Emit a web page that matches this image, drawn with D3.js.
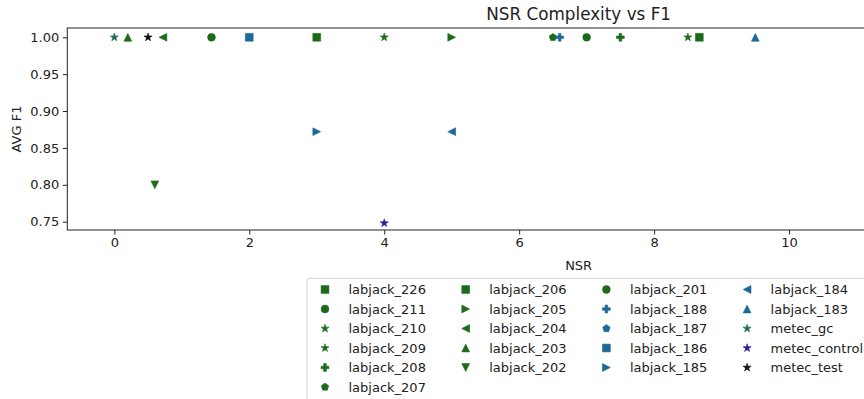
<!DOCTYPE html>
<html>
<head>
<meta charset="utf-8">
<script src="https://cdn.jsdelivr.net/npm/d3@7"></script>
<style>
  html, body { margin: 0; padding: 0; background: #fff; overflow: hidden; }
  svg { display: block; font-family: "DejaVu Sans", sans-serif; }
</style>
</head>
<body>
<svg id="chart" width="864" height="399"></svg>
<script>
// Series names, in legend order
const seriesNames = [
  "labjack_226", "labjack_211", "labjack_210", "labjack_209", "labjack_208", "labjack_207",
  "labjack_206", "labjack_205", "labjack_204", "labjack_203", "labjack_202",
  "labjack_201", "labjack_188", "labjack_187", "labjack_186", "labjack_185",
  "labjack_184", "labjack_183", "metec_gc", "metec_control", "metec_test"
];
const seriesShapes = [
  "square", "circle", "star", "star", "plus", "pentagon",
  "square", "right", "left", "up", "down",
  "circle", "plus", "pentagon", "square", "right",
  "left", "up", "star", "star", "star"
];
const seriesColors = [
  "#1b6b1b", "#1b6b1b", "#1b6b1b", "#1b6b1b", "#1b6b1b", "#1b6b1b",
  "#1b6b1b", "#1b6b1b", "#1b6b1b", "#1b6b1b", "#1b6b1b",
  "#1b6b1b", "#1d6a96", "#1d6a96", "#1d6a96", "#1d6a96",
  "#1d6a96", "#1d6a96", "#1f6b5b", "#2b1b9a", "#111111"
];
// NSR value of each series
const seriesNSR = [
  3.0, 1.44, 4.0, 8.5, 7.5, 6.5,
  8.67, 5.0, 0.72, 0.2, 0.6,
  7.0, 6.6, null, 2.0, 3.0,
  5.0, 9.5, 0.0, 4.0, 0.5
];
// Average F1 of each series
const seriesF1 = [
  1.0, 1.0, 1.0, 1.0, 1.0, 1.0,
  1.0, 1.0, 1.0, 1.0, 0.8,
  1.0, 1.0, null, 1.0, 0.872,
  0.872, 1.0, 1.0, 0.748, 1.0
];
const xTicks = [0, 2, 4, 6, 8, 10];
const yTicks = [0.75, 0.80, 0.85, 0.90, 0.95, 1.00];

const svg = d3.select("#chart");
const plot = { left: 67.3, right: 1090, top: 28, bottom: 230 };

const x = d3.scaleLinear().domain([-0.697, 14.46]).range([plot.left, plot.right]);
const y = d3.scaleLinear().domain([0.7387, 1.0126]).range([plot.bottom, plot.top]);

// Marker path builders, centred on the origin, s = marker size in px
function polygon(pts) { return "M" + pts.map(p => p[0].toFixed(2) + "," + p[1].toFixed(2)).join("L") + "Z"; }
function markerPath(shape, s) {
  const h = s / 2;
  switch (shape) {
    case "circle":
      return `M${h},0A${h},${h},0,1,1,${-h},0A${h},${h},0,1,1,${h},0Z`;
    case "square":
      return polygon([[-h, -h], [h, -h], [h, h], [-h, h]]);
    case "up":
      return polygon([[0, -h], [-h, h], [h, h]]);
    case "down":
      return polygon([[0, h], [-h, -h], [h, -h]]);
    case "left":
      return polygon([[-h, 0], [h, -h], [h, h]]);
    case "right":
      return polygon([[h, 0], [-h, -h], [-h, h]]);
    case "star": {
      const pts = [];
      const R = h * 1.1;
      for (let i = 0; i < 10; i++) {
        const r = i % 2 === 0 ? R : R * 0.381966;
        const a = -Math.PI / 2 + i * Math.PI / 5;
        pts.push([r * Math.cos(a), r * Math.sin(a)]);
      }
      return polygon(pts);
    }
    case "pentagon": {
      const pts = [];
      for (let i = 0; i < 5; i++) {
        const a = -Math.PI / 2 + i * 2 * Math.PI / 5;
        pts.push([h * Math.cos(a), h * Math.sin(a)]);
      }
      return polygon(pts);
    }
    case "plus": {
      const u = s / 6;
      return polygon([[-u, -3*u], [u, -3*u], [u, -u], [3*u, -u], [3*u, u], [u, u],
                      [u, 3*u], [-u, 3*u], [-u, u], [-3*u, u], [-3*u, -u], [-u, -u]]);
    }
  }
}

const MS = 7.8;

// Title and axis labels
svg.append("text").attr("x", (plot.left + plot.right) / 2).attr("y", 20)
  .attr("text-anchor", "middle").attr("font-size", 16.8).attr("fill", "#222")
  .text("NSR Complexity vs F1");
svg.append("text").attr("x", (plot.left + plot.right) / 2).attr("y", 270)
  .attr("text-anchor", "middle").attr("font-size", 13).attr("fill", "#222").text("NSR");
svg.append("text").attr("transform", `translate(21,${(plot.top + plot.bottom) / 2}) rotate(-90)`)
  .attr("text-anchor", "middle").attr("font-size", 13).attr("fill", "#222").text("AVG F1");

// Axes
const xAxis = d3.axisBottom(x).tickValues(xTicks).tickFormat(d3.format("d")).tickSizeOuter(0).tickSize(4.5).tickPadding(3.5);
const yAxis = d3.axisLeft(y).tickValues(yTicks).tickFormat(d3.format(".2f")).tickSizeOuter(0).tickSize(4.5).tickPadding(3.5);

const gx = svg.append("g").attr("transform", `translate(0,${plot.bottom})`).call(xAxis);
const gy = svg.append("g").attr("transform", `translate(${plot.left},0)`).call(yAxis);
[gx, gy].forEach(g => {
  g.select(".domain").remove();
  g.selectAll("line").attr("stroke", "#222").attr("stroke-width", 1);
  g.selectAll("text").attr("font-size", 13).attr("fill", "#222").attr("font-family", "DejaVu Sans, sans-serif");
});

// Frame
svg.append("rect").attr("x", plot.left).attr("y", plot.top)
  .attr("width", plot.right - plot.left).attr("height", plot.bottom - plot.top)
  .attr("fill", "none").attr("stroke", "#222").attr("stroke-width", 1);

// Points
const points = seriesNames.map((n, i) => ({ name: n, shape: seriesShapes[i], color: seriesColors[i], nsr: seriesNSR[i], f1: seriesF1[i] }))
  .filter(d => d.nsr !== null);
svg.append("g").selectAll("path").data(points).join("path")
  .attr("transform", d => `translate(${x(d.nsr)},${y(d.f1)})`)
  .attr("d", d => markerPath(d.shape, MS))
  .attr("fill", d => d.color)
  .attr("stroke", d => d.color).attr("stroke-width", 0.6);

// Legend (4 columns, column-major)
const leg = { left: 307, top: 278.3, colW: 140.7, rowH: 19.5, firstRow: 289.5 };
svg.append("rect").attr("x", leg.left).attr("y", leg.top).attr("rx", 3)
  .attr("width", 600).attr("height", 160)
  .attr("fill", "#fff").attr("fill-opacity", 0.8)
  .attr("stroke", "#d3d3d3").attr("stroke-width", 1);

const colSizes = [6, 5, 5, 5];
let idx = 0;
colSizes.forEach((cnt, c) => {
  for (let r = 0; r < cnt; r++, idx++) {
    const cy = leg.firstRow + r * leg.rowH;
    const mx = 325 + c * leg.colW;
    const g = svg.append("g");
    g.append("path").attr("transform", `translate(${mx},${cy})`)
      .attr("d", markerPath(seriesShapes[idx], MS))
      .attr("fill", seriesColors[idx]).attr("stroke", seriesColors[idx]).attr("stroke-width", 0.6);
    g.append("text").attr("x", mx + 23.5).attr("y", cy + 4.5)
      .attr("font-size", 13).attr("fill", "#222").text(seriesNames[idx]);
  }
});
</script>
</body>
</html>
